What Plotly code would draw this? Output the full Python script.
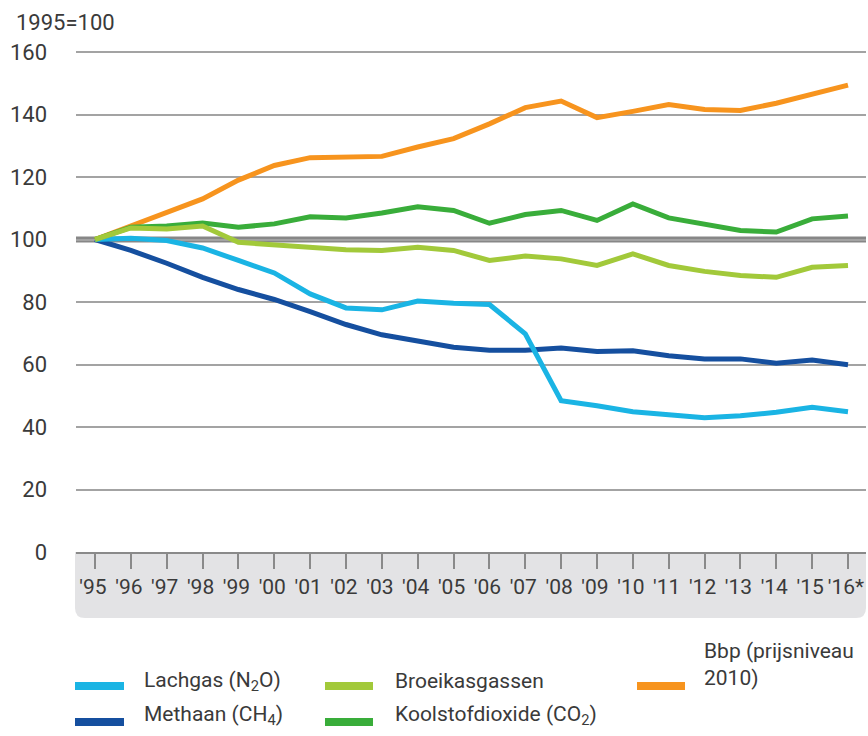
import plotly.graph_objects as go

years = ["'95", "'96", "'97", "'98", "'99", "'00", "'01", "'02", "'03", "'04", "'05",
         "'06", "'07", "'08", "'09", "'10", "'11", "'12", "'13", "'14", "'15", "'16*"]

bbp = [100, 104.3, 108.8, 113.0, 119.0, 123.7, 126.2, 126.2, 126.6, 129.6, 132.3,
       137.0, 142.2, 144.3, 139.0, 141.0, 143.2, 141.6, 141.3, 143.6, 146.7, 149.4]
co2 = [100, 103.9, 104.3, 105.3, 103.9, 105.0, 107.3, 106.9, 108.5, 110.5, 109.3,
       105.2, 108.0, 109.3, 106.1, 111.4, 106.9, 104.7, 102.9, 102.4, 106.6, 107.5]
broeikas = [100, 103.7, 103.4, 104.3, 99.1, 98.4, 97.5, 96.7, 96.5, 97.5, 96.5,
            93.3, 94.7, 93.8, 91.7, 95.4, 91.7, 89.8, 88.5, 87.9, 91.1, 91.7]
lachgas = [100, 100.4, 99.7, 97.3, 93.3, 89.3, 82.6, 78.1, 77.5, 80.3, 79.6,
           79.2, 69.8, 48.4, 46.8, 44.9, 43.9, 43.0, 43.6, 44.7, 46.3, 44.9]
methaan = [100, 96.5, 92.4, 87.9, 84.0, 80.8, 76.9, 72.8, 69.5, 67.4, 65.5,
           64.6, 64.6, 65.3, 64.2, 64.4, 62.8, 61.8, 61.8, 60.4, 61.4, 59.9]

y_ticks = [0, 20, 40, 60, 80, 100, 120, 140, 160]

names = {
    "lachgas": "Lachgas (N<sub>2</sub>O)",
    "methaan": "Methaan (CH<sub>4</sub>)",
    "broeikas": "Broeikasgassen",
    "co2": "Koolstofdioxide (CO<sub>2</sub>)",
    "bbp": "Bbp (prijsniveau<br>2010)",
}
colors = {
    "lachgas": "#1ab4e4",
    "methaan": "#154f9f",
    "broeikas": "#a2c93a",
    "co2": "#39ad3a",
    "bbp": "#f7941e",
}

FONT = "Roboto, Liberation Sans, sans-serif"
TXT = "#3a3a3a"

fig = go.Figure()
for key, vals in [("bbp", bbp), ("methaan", methaan), ("lachgas", lachgas),
                  ("co2", co2), ("broeikas", broeikas)]:
    fig.add_trace(go.Scatter(x=years, y=vals, mode="lines", name=names[key],
                             line=dict(color=colors[key], width=5),
                             showlegend=False, hoverinfo="skip"))

W, H = 868, 736
L, R, T, B = 76, 2, 40, 184
pw, ph = W - L - R, H - T - B


def px(X):
    return (X - L) / pw


def py(Y):
    return (H - B - Y) / ph


shapes = []
# grey band behind x tick labels
yb = py(618)
rx, ry = 10 / pw, 10 / ph
shapes.append(dict(type="path", xref="paper", yref="paper", layer="below",
                   path=(f"M {px(75)},0 L 1,0 L 1,{yb + ry} Q 1,{yb} {1 - rx},{yb} "
                         f"L {px(75) + rx},{yb} Q {px(75)},{yb} {px(75)},{yb + ry} Z"),
                   fillcolor="#e3e3e5", line=dict(width=0)))
# 100 reference line
shapes.append(dict(type="line", xref="paper", yref="y", x0=0, x1=1, y0=100, y1=100,
                   layer="between", line=dict(color="#878787", width=6)))

# manual legend
legend_items = [
    ("lachgas", 75, 124, 686, 142, 681),
    ("methaan", 75, 124, 722, 142, 715),
    ("broeikas", 325, 373, 686, 393, 681),
    ("co2", 325, 373, 722, 393, 715),
    ("bbp", 637, 685, 686, 702, 664),
]
annotations = []
for key, x0, x1, ys, xt, yt in legend_items:
    shapes.append(dict(type="line", xref="paper", yref="paper",
                       x0=px(x0), x1=px(x1), y0=py(ys), y1=py(ys),
                       line=dict(color=colors[key], width=8)))
    annotations.append(dict(xref="paper", yref="paper", x=px(xt), y=py(yt),
                            xanchor="left", yanchor="middle", align="left",
                            text=names[key], showarrow=False,
                            font=dict(family=FONT, size=21, color=TXT)))

annotations.append(dict(xref="paper", yref="paper", x=px(14), y=py(22),
                        xanchor="left", yanchor="middle", text="1995=100",
                        showarrow=False, font=dict(family=FONT, size=22, color=TXT)))

fig.update_layout(
    width=W, height=H,
    margin=dict(l=L, r=R, t=T, b=B),
    paper_bgcolor="white", plot_bgcolor="white",
    font=dict(family=FONT, color=TXT, size=22),
    shapes=shapes, annotations=annotations,
    showlegend=False,
)
fig.update_xaxes(
    type="category", range=[-0.53, 21.502],
    showgrid=False, zeroline=False,
    showline=True, linecolor="#8a8a8a", linewidth=2,
    ticks="outside", ticklen=15, tickwidth=2, tickcolor="#8a8a8a",
    tickangle=0, ticklabelshift=-2,
    tickfont=dict(family=FONT, size=21, color=TXT),
    fixedrange=True,
)
fig.update_yaxes(
    range=[0, (H - B - T) / 3.125],
    tickvals=y_ticks, ticktext=[str(v) for v in y_ticks],
    showgrid=True, gridcolor="#a3a3a3", gridwidth=2,
    zeroline=False, showline=False, ticks="",
    ticklabelstandoff=28,
    tickfont=dict(family=FONT, size=22, color=TXT),
    fixedrange=True,
)

fig.write_html("out.html", config={"displayModeBar": False},
               post_script="document.body.style.margin='0';document.body.style.padding='0';")
